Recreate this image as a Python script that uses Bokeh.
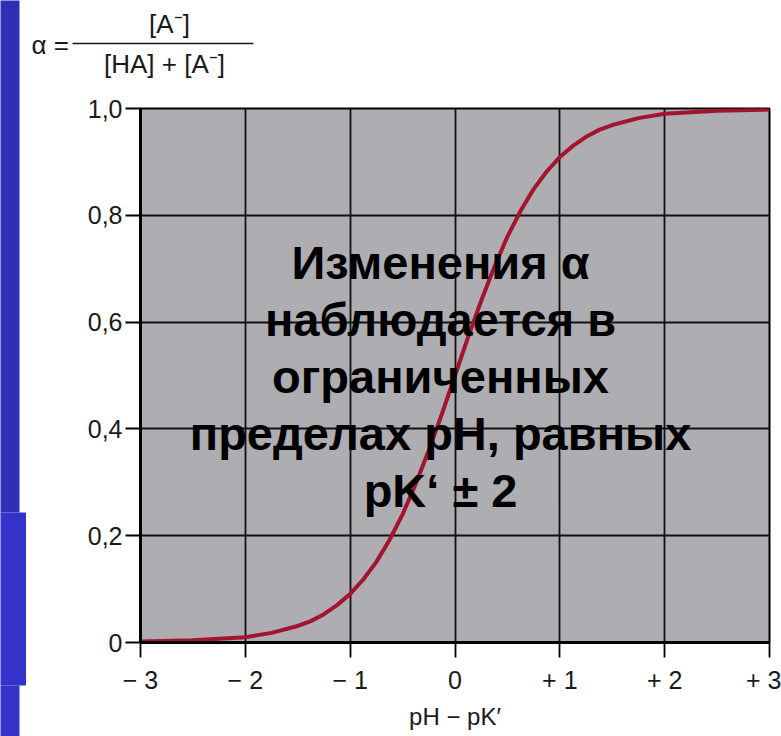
from bokeh.plotting import figure
from bokeh.models import FixedTicker, Label, Range1d
from bokeh.core.properties import value
from bokeh.layouts import row, column
from bokeh.embed import file_html
from bokeh.resources import INLINE

# ---- data ----
x_ticks = [-3, -2, -1, 0, 1, 2, 3]
x_tick_labels = ["− 3", "− 2", "− 1", "0", "+ 1", "+ 2", "+ 3"]
y_ticks = [0, 0.2, 0.4, 0.6, 0.8, 1.0]
y_tick_labels = ["0", "0,2", "0,4", "0,6", "0,8", "1,0"]

ph_minus_pk = [-3.0, -2.5, -2.0, -1.75, -1.5, -1.375, -1.25, -1.125, -1.0, -0.875,
               -0.75, -0.625, -0.5, -0.375, -0.25, -0.125, 0.0, 0.125, 0.25, 0.375,
               0.5, 0.625, 0.75, 0.875, 1.0, 1.125, 1.25, 1.375, 1.5, 1.75, 2.0,
               2.5, 3.0]
alpha = [0.002, 0.004, 0.010, 0.018, 0.031, 0.040, 0.053, 0.070, 0.091, 0.118,
         0.151, 0.192, 0.240, 0.297, 0.360, 0.428, 0.500, 0.572, 0.640, 0.703,
         0.760, 0.808, 0.849, 0.882, 0.909, 0.930, 0.947, 0.960, 0.969, 0.982, 0.990,
         0.996, 0.998]

x_title = "pH − pK′"
formula_texts = ["α =", "[A⁻]", "[HA] + [A⁻]"]
note_lines = ["Изменения α", "наблюдается в", "ограниченных",
              "пределах pH, равных", "pK‘ ± 2"]

SANS = "Liberation Sans"
TXT = "#1a1a1a"

# ---- left slide decoration (blue bands) ----
band_left = [-6, -6, -6]
band_right = [19, 26, 19]
band_top = [-6, 512, 685]
band_bottom = [512, 685, 742]
band_color = ["#2F2FB5", "#3333CC", "#3333CC"]

deco = figure(width=26, height=736, x_range=Range1d(0, 26), y_range=Range1d(736, 0),
              output_backend="svg", toolbar_location=None, frame_align=False,
              min_border=0, min_border_left=0, min_border_right=0,
              min_border_top=0, min_border_bottom=0,
              background_fill_color="white", border_fill_color="white",
              outline_line_color=None)
deco.axis.visible = False
deco.grid.visible = False
deco.quad(left=band_left, right=band_right, top=band_top, bottom=band_bottom,
          fill_color=band_color, line_color=None)

# ---- formula strip above the chart ----
head = figure(width=755, height=80, x_range=Range1d(26, 781), y_range=Range1d(80, 0),
              output_backend="svg", toolbar_location=None, frame_align=False,
              min_border=0, min_border_left=0, min_border_right=0,
              min_border_top=0, min_border_bottom=0,
              background_fill_color="white", border_fill_color="white",
              outline_line_color=None)
head.axis.visible = False
head.grid.visible = False
head.text(x=[31, 169, 164], y=[44, 23, 63], text=formula_texts,
          text_font=value(SANS), text_font_size=value("26px"), text_baseline="middle",
          text_align=["left", "center", "center"], text_color=TXT)
head.segment(x0=[72], y0=[43], x1=[253], y1=[43], line_color=TXT, line_width=1.6)

# ---- main chart ----
p = figure(width=755, height=656, x_range=Range1d(-3, 3), y_range=Range1d(0, 1),
           output_backend="svg", toolbar_location=None, frame_align=False,
           min_border_left=114, min_border_right=12, min_border_top=28,
           min_border_bottom=94,
           background_fill_color="#AEADB1", border_fill_color="white",
           outline_line_color="black", outline_line_width=2)

p.xgrid.ticker = FixedTicker(ticks=x_ticks)
p.ygrid.ticker = FixedTicker(ticks=y_ticks)
for g in (p.xgrid, p.ygrid):
    g.grid_line_color = "#111111"
    g.grid_line_width = 1.8

p.xaxis.ticker = FixedTicker(ticks=x_ticks, minor_ticks=[])
p.yaxis.ticker = FixedTicker(ticks=y_ticks, minor_ticks=[])
p.xaxis.major_label_overrides = dict(zip(x_ticks, x_tick_labels))
p.yaxis.major_label_overrides = dict(zip(y_ticks, y_tick_labels))
for ax in (p.xaxis, p.yaxis):
    ax.axis_line_color = "black"
    ax.axis_line_width = 3
    ax.major_tick_line_color = "black"
    ax.major_tick_line_width = 1.8
    ax.major_tick_in = 0
    ax.major_tick_out = 15
    ax.minor_tick_line_color = None
    ax.major_label_text_font = SANS
    ax.major_label_text_color = TXT
    ax.major_label_text_font_size = "25px"
p.xaxis.major_label_standoff = 8
p.yaxis.major_label_standoff = 3
p.xaxis.axis_label = x_title
p.xaxis.axis_label_text_font = SANS
p.xaxis.axis_label_text_font_style = "normal"
p.xaxis.axis_label_text_font_size = "24px"
p.xaxis.axis_label_text_color = TXT
p.xaxis.axis_label_standoff = 6

p.line(ph_minus_pk, alpha, line_color="#A3142F", line_width=4, line_join="round")

note_y = [0.7116, 0.6049, 0.4981, 0.3914, 0.2846]
for txt, yy in zip(note_lines, note_y):
    p.add_layout(Label(x=-0.138, y=yy, text=txt, text_font=SANS,
                       text_font_size="47px", text_font_style="bold",
                       text_align="center", text_baseline="alphabetic",
                       text_color="black"))

layout = row(deco, column(head, p, spacing=0), spacing=0)
open("out.html", "w").write(file_html(layout, INLINE))
